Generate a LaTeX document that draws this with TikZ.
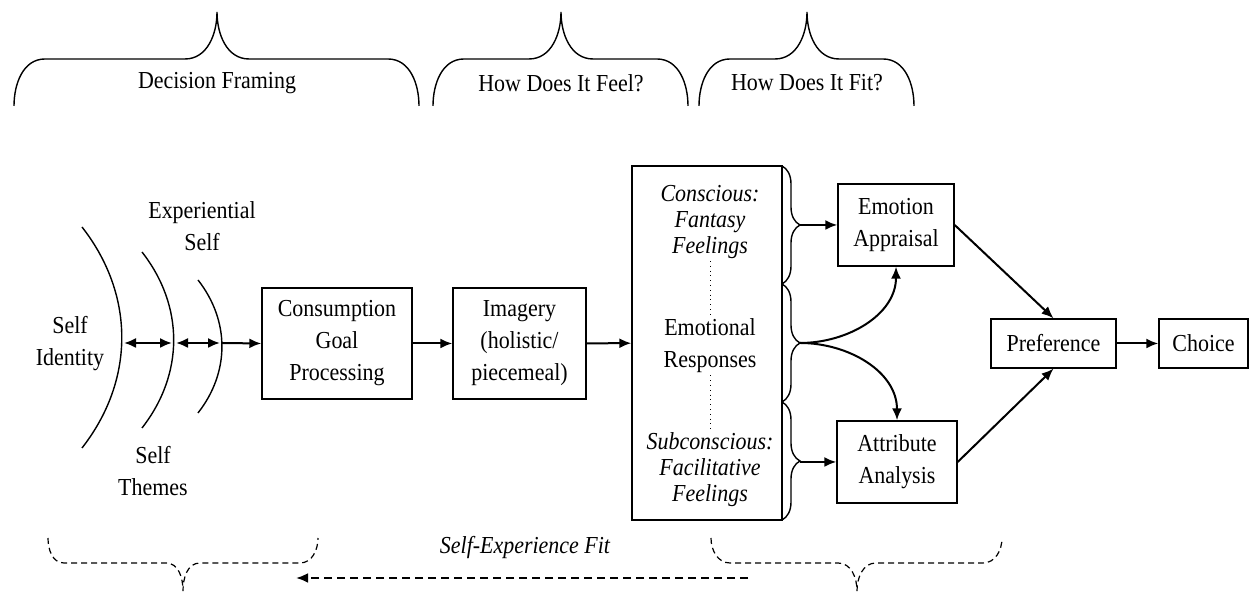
\documentclass[tikz,border=0pt]{standalone}
\usepackage{fontspec}
\setmainfont{Liberation Serif}[FakeStretch=0.9]
\usetikzlibrary{arrows.meta,decorations.pathreplacing}

\begin{document}
\begin{tikzpicture}[x=0.5pt, y=0.5pt, font=\fontsize{12.2}{16}\selectfont,
    >={Latex[length=6pt,width=5pt]},
    box/.style={draw, line width=0.7pt, align=center, inner sep=0pt},
    lbl/.style={align=center, inner sep=1pt},
    feel/.style={align=center, inner sep=1pt, font=\fontsize{12.2}{13}\selectfont\itshape},
    flow/.style={->, line width=1pt},
    curl/.style={line width=0.7pt},
    bracket/.style={line width=0.7pt, decorate, decoration={brace, amplitude=9pt}},
    dashcurl/.style={line width=0.6pt, dash pattern=on 3pt off 2pt},
    fitline/.style={->, line width=1.3pt, dash pattern=on 4pt off 2.5pt}]

    \useasboundingbox (0,0) rectangle (1249,592);

    \draw[curl] (14,486) to[out=90,in=180] (45,533) -- (185,533) to[out=0,in=-90] (217,580)
        to[out=-90,in=180] (249,533) -- (388,533) to[out=0,in=90] (419,486);
    \draw[curl] (433,486) to[out=90,in=180] (464,533) -- (529,533) to[out=0,in=-90] (561,580)
        to[out=-90,in=180] (593,533) -- (657,533) to[out=0,in=90] (688,486);
    \draw[curl] (699,486) to[out=90,in=180] (730,533) -- (775,533) to[out=0,in=-90] (807,580)
        to[out=-90,in=180] (839,533) -- (883,533) to[out=0,in=90] (914,486);

    \node (df) at (217,509) {Decision Framing};
    \node (hf) at (561,509) {How Does It Feel?};
    \node (hi) at (807,509) {How Does It Fit?};

    \draw[curl] (82,365) to[out=-52,in=52] (82,144);
    \draw[curl] (142,340) to[out=-52,in=52] (142,164);
    \draw[curl] (198,312) to[out=-52,in=52] (198,179);

    \coordinate (r1) at (122,249);
    \coordinate (r2) at (174,249);
    \coordinate (r3) at (222,249);

    \node[lbl] (id) at (70,248) {Self\\Identity};
    \node[lbl] (ex) at (202,366) {Experiential\\Self};
    \node[lbl] (th) at (153,121) {Self\\Themes};
    \node[box, minimum width=75pt, minimum height=55.5pt] (cg) at (337,248.5) {Consumption\\Goal\\Processing};
    \node[box, minimum width=66.5pt, minimum height=55.5pt] (im) at (519.5,248.5) {Imagery\\(holistic/\\piecemeal)};
    \node[box, minimum width=75pt, minimum height=177pt] (er) at (707,249) {};
    \node[feel] (cf) at (710,370) {Conscious:\\Fantasy\\Feelings};
    \node[lbl] (em) at (710,246) {Emotional\\Responses};
    \node[feel] (sf) at (710,122) {Subconscious:\\Facilitative\\Feelings};
    \node[box, minimum width=58pt, minimum height=41pt] (ea) at (896,367) {Emotion\\Appraisal};
    \node[box, minimum width=60pt, minimum height=41pt] (aa) at (897,130) {Attribute\\Analysis};
    \node[box, minimum width=62.5pt, minimum height=24.5pt] (pr) at (1053.5,248.5) {Preference};
    \node[box, minimum width=44.5pt, minimum height=24.5pt] (ch) at (1203.5,248.5) {Choice};

    \draw[dotted, line width=0.4pt] (cf.south) -- (em.north);
    \draw[dotted, line width=0.4pt] (em.south) -- (sf.north);

    \draw[bracket] (782,426) -- (782,308);
    \draw[bracket] (782,308) -- (782,190);
    \draw[bracket] (782,190) -- (782,72);
    \coordinate (t1) at (800,367);
    \coordinate (t2) at (800,249);
    \coordinate (t3) at (800,130);

    \draw[<->, line width=1pt, shorten <=1pt, shorten >=1pt] (r1) -- (r2);
    \draw[<->, line width=1pt, shorten <=1pt, shorten >=1pt] (r2) -- (r3);
    \draw[flow] (r3) -- (cg.west);
    \draw[flow] (cg) -- (im);
    \draw[flow] (im) -- (er);
    \draw[flow] (t1) -- (ea.west);
    \draw[flow] (t3) -- (aa.west);
    \draw[flow] (t2) to[out=0,in=-90] (ea.south);
    \draw[flow] (t2) to[out=0,in=90] (aa.north);
    \draw[flow] (ea.east) -- (pr.north);
    \draw[flow] (aa.east) -- (pr.south);
    \draw[flow] (pr) -- (ch);

    \draw[dashcurl] (48,54) to[out=-90,in=180] (64,29) -- (166,29) to[out=0,in=90] (183,1)
        to[out=90,in=180] (200,29) -- (300,29) to[out=0,in=-90] (318,54);
    \draw[dashcurl] (711,54) to[out=-90,in=180] (730,29) -- (838,29) to[out=0,in=90] (857,1)
        to[out=90,in=180] (876,29) -- (983,29) to[out=0,in=-90] (1002,54);

    \node[font=\fontsize{12.2}{13}\selectfont\itshape] (sx) at (525,44) {Self-Experience Fit};
    \coordinate (f1) at (748,14);
    \coordinate (f2) at (296,14);
    \draw[fitline] (f1) -- (f2);

\end{tikzpicture}
\end{document}
